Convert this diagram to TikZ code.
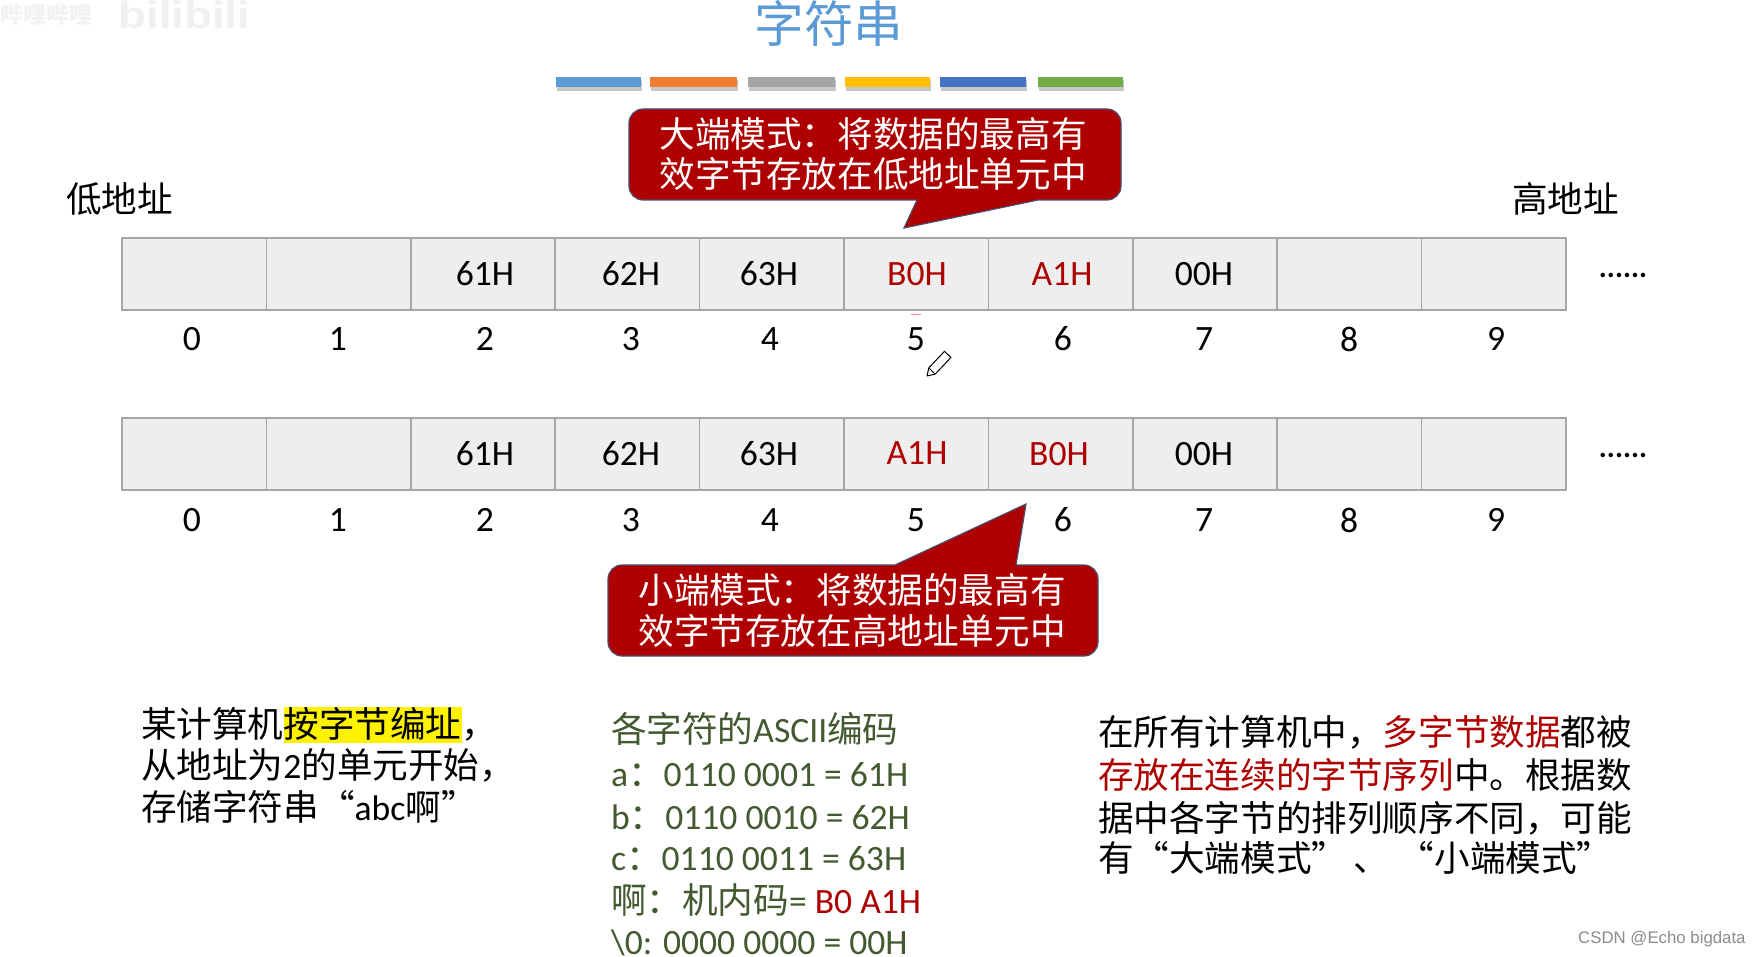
\documentclass[tikz,border=0pt]{standalone}
\usepackage{fontspec}
\setmainfont{Carlito}
\newfontfamily\cjk{Noto Sans CJK SC}
\newfontfamily\wmfont{Liberation Sans}
\newcommand{\zh}[1]{{\cjk #1}}
\newcommand{\zc}{\char"FF1A\relax}
\newcommand{\zd}{\char"FF0C\relax}
\definecolor{cellfill}{HTML}{EEEEEE}
\definecolor{cellline}{HTML}{A6A6A6}
\definecolor{darkred}{HTML}{AE0000}
\definecolor{calloutline}{HTML}{4A4F6E}
\definecolor{listgreen}{HTML}{43592F}
\definecolor{titleblue}{HTML}{5B9BD5}
\tikzset{
  x=0.5pt,y=-0.5pt,
  cellbox/.style={draw=cellline,fill=cellfill,line width=0.85pt,minimum width=72.2pt,minimum height=36pt,inner sep=0pt,outer sep=0pt},
  body/.style={font=\fontsize{17.8}{20}\selectfont,inner sep=0pt,outer sep=0pt},
  cval/.style={body,anchor=center},
  redval/.style={cval,text=darkred},
  lbl/.style={body,anchor=base west},
  callout/.style={fill=darkred,draw=calloutline,line width=0.6pt},
  calltext/.style={body,anchor=base,text=white},
  green/.style={lbl,text=listgreen},
}
\begin{document}
\begin{tikzpicture}
\useasboundingbox (0,0) rectangle (1759,957);
\fill[white] (0,0) rectangle (1759,957);
% watermark
\node[anchor=base west,inner sep=0pt,text=black!5,font=\fontsize{11.5}{13}\selectfont] (wm1) at (0,24) {\zh{\bfseries 哔哩哔哩}};
\node[anchor=base west,inner sep=0pt,text=black!6,font=\wmfont\bfseries\fontsize{19}{20}\selectfont,xscale=1.2,transform shape] (wm2) at (118,29) {bilibili};
% title
\node[inner sep=0pt,text=titleblue,font=\fontsize{24.8}{26}\selectfont] (title) at (829,23) {\zh{字符串}};
% bars
\foreach \n/\xa/\xb/\c in {b1/556/641/5B9BD5,b2/650/737/ED7D31,b3/748/835/A5A5A5,b4/845/930/FFC000,b5/940/1026/4472C4,b6/1038/1123/70AD47}{
  \definecolor{barc}{HTML}{\c}
  \fill[black,opacity=.22] (\xa+1,80) rectangle (\xb+1,91);
  \fill[barc] (\xa,77) rectangle (\xb,87);
}
% address ends
\node[lbl] (low) at (66,213) {\zh{低地址}};
\node[lbl] (high) at (1512,213) {\zh{高地址}};
% cells
\foreach \i in {0,...,9}{
  \node[cellbox] (a\i) at ({122+144.4*\i+72.2},274) {};
  \node[cellbox] (b\i) at ({122+144.4*\i+72.2},454) {};
}
% upper row values
\node[cval] (a2v) at (485,274) {61H};
\node[cval] (a3v) at (631,274) {62H};
\node[cval] (a4v) at (769,274) {63H};
\node[redval] (a5v) at (917,274) {B0H};
\node[redval] (a6v) at (1062,274) {A1H};
\node[cval] (a7v) at (1204,274) {00H};
% lower row values
\node[cval] (b2v) at (485,454) {61H};
\node[cval] (b3v) at (631,454) {62H};
\node[cval] (b4v) at (769,454) {63H};
\node[redval] (b5v) at (917,453) {A1H};
\node[redval] (b6v) at (1059,454) {B0H};
\node[cval] (b7v) at (1204,454) {00H};
% dots
\node[body,font=\bfseries\fontsize{15}{16}\selectfont,anchor=base] (dots1) at (1623,277) {......};
\node[body,font=\bfseries\fontsize{15}{16}\selectfont,anchor=base] (dots2) at (1623,457) {......};
% indices
\foreach \i/\x in {0/192,1/338,2/485,3/631,4/770,5/916,6/1063,7/1204,8/1349,9/1496}{
  \node[cval] (ia\i) at (\x,339) {\i};
  \node[cval] (ib\i) at (\x,520) {\i};
}
% stray pen mark
\fill[red!45] (911,313.5) rectangle (921,315);
% pencil
\draw[black,fill=white,line width=0.5pt,line join=round] (927,376) -- (928.8,367.9) -- (944.5,351.3) -- (950.9,357.5) -- (935.2,374.1) -- cycle;
\draw[black,line width=0.4pt] (928.8,367.9) -- (935.2,374.1);
% callout 1
\draw[callout] [rounded corners=7pt] (629,109) -- (1121,109) -- (1121,200) [sharp corners] -- (1038,200) -- (904,228) -- (917,200) [rounded corners=7pt] -- (629,200) -- cycle;
\node[calltext] (c1a) at (873,147.5) {\zh{大端模式\zc 将数据的最高有}};
\node[calltext] (c1b) at (873,188) {\zh{效字节存放在低地址单元中}};
% callout 2
\draw[callout] [rounded corners=7pt] (608,565) [sharp corners] -- (895,565) -- (1026,504) -- (1016,565) [rounded corners=7pt] -- (1098,565) -- (1098,656) -- (608,656) -- cycle;
\node[calltext] (c2a) at (852,603) {\zh{小端模式\zc 将数据的最高有}};
\node[calltext] (c2b) at (852,644) {\zh{效字节存放在高地址单元中}};
% left note
\fill[yellow] (284,707) rectangle (462,743);
\node[lbl] (n1) at (141,737) {\zh{某计算机按字节编址\zd}};
\node[lbl] (n2) at (141,778) {\zh{从地址为}2\zh{的单元开始\zd}};
\node[lbl] (n3) at (141,820) {\zh{存储字符串“}abc\zh{啊”}};
% ASCII list
\node[green] (g1) at (611,742) {\zh{各字符的}ASCII\zh{编码}};
\node[green] (g2) at (611,786) {a\zh{\zc}0110 0001 = 61H};
\node[green] (g3) at (611,829) {b\zh{\zc}0110 0010 = 62H};
\node[green] (g4) at (611,870) {c\zh{\zc}0110 0011 = 63H};
\node[green] (g5) at (611,913) {\zh{啊\zc 机内码}= \textcolor{darkred}{B0 A1H}};
\node[green] (g6) at (611,954) {\textbackslash 0: 0000 0000 = 00H};
% right note
\node[lbl] (r1) at (1098,745) {\zh{在所有计算机中\zd\textcolor{darkred}{多字节数据}都被}};
\node[lbl] (r2) at (1098,788) {\zh{\textcolor{darkred}{存放在连续的字节序列}中。根据数}};
\node[lbl] (r3) at (1098,831) {\zh{据中各字节的排列顺序不同\zd 可能}};
\node[lbl] (r4) at (1098,871) {\zh{有“大端模式”\hspace{3pt}、\hspace{5pt}“小端模式”}};
% credit
\node[anchor=base east,inner sep=0pt,text=black!45,font=\wmfont\fontsize{8.4}{10}\selectfont] (csdn) at (1746,943) {CSDN @Echo bigdata};
\end{tikzpicture}
\end{document}
